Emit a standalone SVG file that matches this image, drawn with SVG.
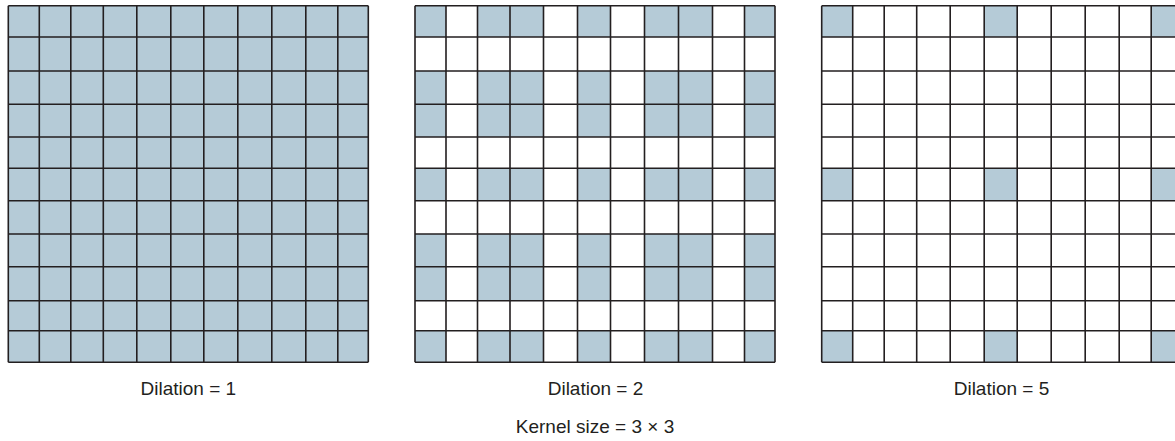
<svg xmlns="http://www.w3.org/2000/svg" xmlns:xlink="http://www.w3.org/1999/xlink" width="1175" height="441" viewBox="0 0 1175 441">
<style>
.b{fill:#b5cbd7;stroke:none}
.g{fill:none;stroke:#231f20;stroke-width:1.6}
.t{font-family:"Liberation Sans",Arial,sans-serif;font-size:19px;fill:#231f20;text-anchor:middle}
</style>
<defs>
<path id="lines" class="g" d="M0 0V356.6M31 0V356.6M62.5 0V356.6M95 0V356.6M128.5 0V356.6M162.5 0V356.6M195.5 0V356.6M229.5 0V356.6M263.5 0V356.6M297.5 0V356.6M329.5 0V356.6M360 0V356.6M0 0H360M0 31.3H360M0 65.3H360M0 98.6H360M0 131.3H360M0 162.6H360M0 195H360M0 228.3H360M0 261H360M0 295H360M0 325H360M0 356.6H360"/>
</defs>
<rect width="1175" height="441" fill="#fff"/>
<g id="grid-dilation-1" transform="translate(8.3,5.7)">
<rect class="b" x="0" y="0" width="360" height="356.6"/>
<use xlink:href="#lines" href="#lines"/>
</g>
<g id="grid-dilation-2" transform="translate(415,5.7)">
<rect class="b" x="0" y="0" width="31" height="31.3"/><rect class="b" x="62.5" y="0" width="66" height="31.3"/><rect class="b" x="162.5" y="0" width="33" height="31.3"/><rect class="b" x="229.5" y="0" width="68" height="31.3"/><rect class="b" x="329.5" y="0" width="30.5" height="31.3"/>
<rect class="b" x="0" y="65.3" width="31" height="66"/><rect class="b" x="62.5" y="65.3" width="66" height="66"/><rect class="b" x="162.5" y="65.3" width="33" height="66"/><rect class="b" x="229.5" y="65.3" width="68" height="66"/><rect class="b" x="329.5" y="65.3" width="30.5" height="66"/>
<rect class="b" x="0" y="162.6" width="31" height="32.4"/><rect class="b" x="62.5" y="162.6" width="66" height="32.4"/><rect class="b" x="162.5" y="162.6" width="33" height="32.4"/><rect class="b" x="229.5" y="162.6" width="68" height="32.4"/><rect class="b" x="329.5" y="162.6" width="30.5" height="32.4"/>
<rect class="b" x="0" y="228.3" width="31" height="66.7"/><rect class="b" x="62.5" y="228.3" width="66" height="66.7"/><rect class="b" x="162.5" y="228.3" width="33" height="66.7"/><rect class="b" x="229.5" y="228.3" width="68" height="66.7"/><rect class="b" x="329.5" y="228.3" width="30.5" height="66.7"/>
<rect class="b" x="0" y="325" width="31" height="31.6"/><rect class="b" x="62.5" y="325" width="66" height="31.6"/><rect class="b" x="162.5" y="325" width="33" height="31.6"/><rect class="b" x="229.5" y="325" width="68" height="31.6"/><rect class="b" x="329.5" y="325" width="30.5" height="31.6"/>
<use xlink:href="#lines" href="#lines"/>
</g>
<g id="grid-dilation-5" transform="translate(821.7,5.7)">
<rect class="b" x="0" y="0" width="31" height="31.3"/><rect class="b" x="162.5" y="0" width="33" height="31.3"/><rect class="b" x="329.5" y="0" width="30.5" height="31.3"/>
<rect class="b" x="0" y="162.6" width="31" height="32.4"/><rect class="b" x="162.5" y="162.6" width="33" height="32.4"/><rect class="b" x="329.5" y="162.6" width="30.5" height="32.4"/>
<rect class="b" x="0" y="325" width="31" height="31.6"/><rect class="b" x="162.5" y="325" width="33" height="31.6"/><rect class="b" x="329.5" y="325" width="30.5" height="31.6"/>
<use xlink:href="#lines" href="#lines"/>
</g>
<g id="labels">
<text class="t" x="188.3" y="394.5">Dilation = 1</text>
<text class="t" x="595.5" y="394.5">Dilation = 2</text>
<text class="t" x="1001.5" y="394.5">Dilation = 5</text>
<text class="t" x="595" y="432.5">Kernel size = 3 × 3</text>
</g>
</svg>
